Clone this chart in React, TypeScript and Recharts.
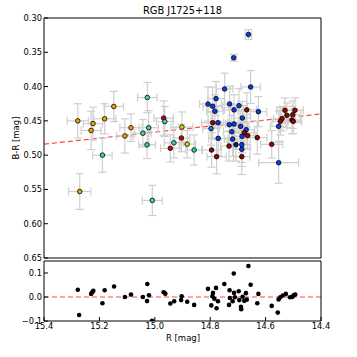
import React from 'react'
import { ScatterChart, Scatter, XAxis, YAxis, ErrorBar, ReferenceLine } from 'recharts'

// RGB J1725+118 — B-R colour vs R magnitude, with linear fit and residuals

// star measurements (top panel)
const R_MAG = [
  15.278, 15.223, 15.230, 15.181, 15.148, 15.189, 15.108, 15.086, 15.027, 15.043,
  15.022, 15.028, 14.968, 14.964, 14.902, 14.904, 14.931, 14.944, 14.883, 14.858,
  15.271, 15.009,
  14.662, 14.715, 14.748, 14.654, 14.779, 14.808, 14.791, 14.730, 14.696, 14.783,
  14.714, 14.668, 14.626, 14.684, 14.791, 14.772, 14.731, 14.714, 14.690, 14.797,
  14.670, 14.677, 14.665, 14.722, 14.771, 14.719, 14.685, 14.630, 14.707, 14.732,
  14.686, 14.795, 14.686, 14.777, 14.686, 14.578, 14.553, 14.553, 14.530, 14.494,
  14.523, 14.502, 14.541, 14.547, 14.505, 14.500,
]
const B_R = [
  0.450, 0.454, 0.464, 0.447, 0.429, 0.500, 0.472, 0.460, 0.416, 0.468,
  0.460, 0.485, 0.446, 0.451, 0.459, 0.475, 0.482, 0.490, 0.484, 0.4925,
  0.553, 0.566,
  0.324, 0.358, 0.4035, 0.4006, 0.4176, 0.4254, 0.4288, 0.4254, 0.4279, 0.436,
  0.434, 0.434, 0.4366, 0.4458, 0.4527, 0.4527, 0.4556, 0.4546, 0.458, 0.4614,
  0.4629, 0.4673, 0.4716, 0.4658, 0.4755, 0.4765, 0.4726, 0.4745, 0.4847, 0.4867,
  0.4847, 0.4925, 0.4915, 0.5022, 0.5022, 0.4842, 0.458, 0.511, 0.4346, 0.4346,
  0.4419, 0.441, 0.4468, 0.4507, 0.4488, 0.4507,
]
const R_ERR = [
  0.038, 0.035, 0.036, 0.040, 0.035, 0.035, 0.030, 0.040, 0.035, 0.030,
  0.035, 0.030, 0.035, 0.030, 0.040, 0.030, 0.035, 0.035, 0.030, 0.030,
  0.040, 0.036,
  0.012, 0.008, 0.030, 0.035, 0.030, 0.030, 0.035, 0.030, 0.030, 0.030,
  0.035, 0.035, 0.030, 0.030, 0.040, 0.035, 0.030, 0.030, 0.030, 0.030,
  0.030, 0.035, 0.030, 0.030, 0.035, 0.030, 0.030, 0.035, 0.030, 0.030,
  0.030, 0.035, 0.030, 0.035, 0.030, 0.040, 0.030, 0.072, 0.030, 0.030,
  0.030, 0.030, 0.030, 0.030, 0.030, 0.030,
]
const BR_ERR = [
  0.025, 0.024, 0.028, 0.022, 0.022, 0.025, 0.025, 0.020, 0.022, 0.020,
  0.025, 0.020, 0.025, 0.022, 0.022, 0.020, 0.022, 0.020, 0.020, 0.022,
  0.026, 0.022,
  0.007, 0.005, 0.023, 0.024, 0.025, 0.025, 0.028, 0.026, 0.025, 0.024,
  0.022, 0.025, 0.022, 0.024, 0.022, 0.025, 0.025, 0.024, 0.022, 0.024,
  0.022, 0.022, 0.020, 0.024, 0.025, 0.025, 0.024, 0.024, 0.024, 0.022,
  0.026, 0.025, 0.025, 0.025, 0.026, 0.020, 0.022, 0.030, 0.018, 0.018,
  0.018, 0.020, 0.018, 0.020, 0.020, 0.018,
]
// 0 orange, 1 yellow, 2 green, 3 teal, 4 red, 5 dark red, 6 blue, 7 steel blue, 8 navy
const GROUP = [
  0, 0, 0, 0, 0, 2, 0, 0, 2, 2,
  3, 3, 4, 3, 1, 4, 3, 4, 1, 3,
  0, 2,
  6, 6, 6, 6, 6, 6, 6, 6, 6, 6,
  6, 5, 6, 6, 5, 6, 6, 6, 6, 7,
  6, 5, 5, 6, 6, 6, 6, 5, 8, 5,
  6, 5, 6, 5, 5, 5, 6, 6, 5, 5,
  5, 5, 5, 5, 5, 5,
]

// residuals (bottom panel)
const RES_R = [
  15.278, 15.273, 15.230, 15.226, 15.222, 15.189, 15.181, 15.147, 15.108, 15.086,
  15.043, 15.027, 15.028, 15.021, 15.010, 14.968, 14.962, 14.944, 14.930, 14.903,
  14.905, 14.883, 14.858, 14.808, 14.796, 14.792, 14.790, 14.785, 14.779, 14.777,
  14.772, 14.749, 14.732, 14.730, 14.729, 14.715, 14.719, 14.714, 14.711, 14.697,
  14.695, 14.689, 14.688, 14.683, 14.677, 14.671, 14.668, 14.662, 14.654, 14.630,
  14.626, 14.578, 14.556, 14.553, 14.547, 14.538, 14.527, 14.512, 14.504, 14.499,
  14.493,
]
const RES_DELTA = [
  0.030, -0.075, 0.013, 0.020, 0.026, -0.026, 0.028, 0.044, 0.000, 0.010,
  0.000, 0.054, -0.017, 0.007, -0.099, 0.020, 0.014, -0.027, -0.018, 0.003,
  -0.013, -0.020, -0.033, 0.034, -0.035, 0.003, 0.017, -0.007, 0.038, -0.047,
  -0.018, 0.054, -0.033, 0.028, -0.004, 0.098, -0.018, 0.017, -0.001, 0.024,
  -0.013, -0.041, -0.051, 0.001, -0.016, 0.016, -0.011, 0.129, 0.051, -0.026,
  0.013, -0.037, -0.065, -0.010, -0.001, 0.006, 0.013, -0.001, 0.000, 0.007,
  0.010,
]

// linear fit end points
const FIT_R = [15.4, 14.4]
const FIT_BR = [0.484, 0.440]

const X_DOMAIN = [14.4, 15.4]
const X_TICKS = [15.4, 15.2, 15.0, 14.8, 14.6, 14.4]
const Y_DOMAIN = [0.3, 0.65]
const Y_TICKS = [0.3, 0.35, 0.4, 0.45, 0.5, 0.55, 0.6, 0.65]
const RES_DOMAIN = [-0.1, 0.15]
const RES_TICKS = [-0.1, 0, 0.1]

const GROUP_COLORS = ['#eba400', '#e2d400', '#3fdc8a', '#35d2b0', '#d80000', '#9c0000', '#0b3df0', '#1e72e0', '#0a1a8c']
const FONT = '"DejaVu Sans", sans-serif'
const tickStyle = { fontSize: 8.3, fill: '#000', fontFamily: FONT }

const stars = R_MAG.map((r, i) => ({ r, br: B_R[i], ex: R_ERR[i], ey: BR_ERR[i], g: GROUP[i] }))
const residuals = RES_R.map((r, i) => ({ r, d: RES_DELTA[i] }))
const fitSegment = [
  { x: FIT_R[0], y: FIT_BR[0] },
  { x: FIT_R[1], y: FIT_BR[1] },
]

const fmtRes = (v: number) => (v === 0 ? '0.0' : (v < 0 ? '\u2212' : '') + Math.abs(v).toFixed(1))

function StarDot(props: any) {
  const { cx, cy, payload } = props
  if (cx == null || cy == null) return <g />
  return <circle cx={cx} cy={cy} r={2.3} fill={GROUP_COLORS[payload.g]} stroke="#000" strokeWidth={0.8} />
}

function ResDot(props: any) {
  const { cx, cy } = props
  if (cx == null || cy == null) return <g />
  return <circle cx={cx} cy={cy} r={2.3} fill="#000" />
}

const NoDot = () => <g />

export default function App() {
  return (
    <div style={{ position: 'absolute', left: 0, top: 0, width: 357, height: 357, background: '#fff', fontFamily: FONT }}>
      <div style={{ position: 'absolute', left: 182.5, top: 11, transform: 'translate(-50%, -50%)', fontSize: 9.8, whiteSpace: 'nowrap', lineHeight: 1 }}>
        RGB J1725+118
      </div>

      <div style={{ position: 'absolute', left: 0, top: 0 }}>
        <ScatterChart width={357} height={262} margin={{ top: 17, right: 30, bottom: 0, left: 0 }}>
          <XAxis xAxisId="b" type="number" dataKey="r" domain={X_DOMAIN} reversed allowDataOverflow
            tick={false} tickLine={false} height={4} stroke="#000" />
          <XAxis xAxisId="t" orientation="top" type="number" dataKey="r" domain={X_DOMAIN} reversed allowDataOverflow
            tick={false} tickLine={false} height={1} stroke="#000" />
          <YAxis yAxisId="l" type="number" dataKey="br" domain={Y_DOMAIN} reversed allowDataOverflow
            ticks={Y_TICKS} interval={0} tickFormatter={(v: number) => v.toFixed(2)} tick={tickStyle}
            tickSize={-4} tickMargin={6} width={44} stroke="#000" />
          <YAxis yAxisId="r" orientation="right" type="number" dataKey="br" domain={Y_DOMAIN} reversed allowDataOverflow
            ticks={Y_TICKS} interval={0} tick={false} tickSize={-4} width={6} stroke="#000" />
          <ReferenceLine xAxisId="b" yAxisId="l" segment={fitSegment} stroke="#ff2a2a" strokeOpacity={0.85}
            strokeWidth={1.2} strokeDasharray="5 3" />
          <Scatter xAxisId="b" yAxisId="l" data={stars} shape={NoDot} isAnimationActive={false}>
            <ErrorBar dataKey="ex" direction="x" width={4} stroke="#cfcfcf" strokeWidth={1.2} isAnimationActive={false} />
            <ErrorBar dataKey="ey" direction="y" width={4} stroke="#cfcfcf" strokeWidth={1.2} isAnimationActive={false} />
          </Scatter>
          <Scatter xAxisId="b" yAxisId="l" data={stars} shape={StarDot} isAnimationActive={false} />
        </ScatterChart>
      </div>

      <div style={{ position: 'absolute', left: 0, top: 259 }}>
        <ScatterChart width={357} height={98} margin={{ top: 1, right: 30, bottom: 6, left: 0 }}>
          <XAxis xAxisId="b" type="number" dataKey="r" domain={X_DOMAIN} reversed allowDataOverflow
            ticks={X_TICKS} interval={0} tickFormatter={(v: number) => v.toFixed(1)} tick={tickStyle}
            tickSize={-4} tickMargin={6} height={30} stroke="#000" />
          <XAxis xAxisId="t" orientation="top" type="number" dataKey="r" domain={X_DOMAIN} reversed allowDataOverflow
            ticks={X_TICKS} interval={0} tick={false} tickSize={-4} height={1} stroke="#000" />
          <YAxis yAxisId="l" type="number" dataKey="d" domain={RES_DOMAIN} allowDataOverflow
            ticks={RES_TICKS} interval={0} tickFormatter={fmtRes} tick={tickStyle}
            tickSize={-4} tickMargin={6} width={44} stroke="#000" />
          <YAxis yAxisId="r" orientation="right" type="number" dataKey="d" domain={RES_DOMAIN} allowDataOverflow
            ticks={RES_TICKS} interval={0} tick={false} tickSize={-4} width={6} stroke="#000" />
          <ReferenceLine xAxisId="b" yAxisId="l" y={0} stroke="#ff2a2a" strokeOpacity={0.85}
            strokeWidth={1.2} strokeDasharray="5 3" />
          <Scatter xAxisId="b" yAxisId="l" data={residuals} shape={ResDot} isAnimationActive={false} />
        </ScatterChart>
      </div>

      <div style={{ position: 'absolute', left: 183, top: 338, transform: 'translate(-50%, -50%)', fontSize: 8.5, whiteSpace: 'nowrap', lineHeight: 1 }}>
        R [mag]
      </div>
      <div style={{ position: 'absolute', left: 16, top: 138, transform: 'translate(-50%, -50%) rotate(-90deg)', fontSize: 8.5, whiteSpace: 'nowrap', lineHeight: 1 }}>
        B-R [mag]
      </div>
    </div>
  )
}
